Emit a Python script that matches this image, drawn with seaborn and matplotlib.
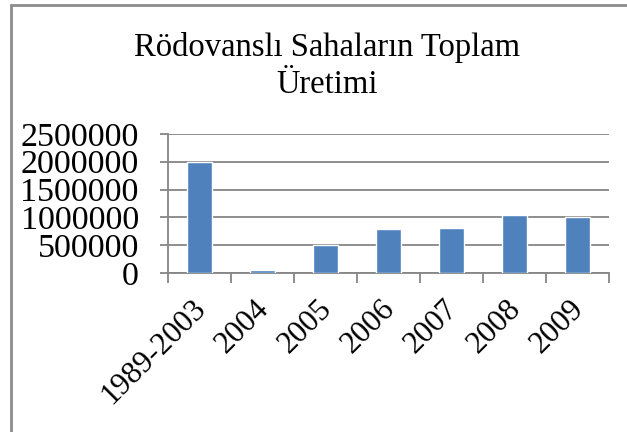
import numpy as np
import pandas as pd
import matplotlib
matplotlib.use("Agg")
import matplotlib.pyplot as plt
import matplotlib.transforms as mtrans
import seaborn as sns
from matplotlib.patches import Rectangle

# ── Data ─────────────────────────────────────────────────────────────────────
periods = ['1989-2003', '2004', '2005', '2006', '2007', '2008', '2009']
production = [1995000, 55000, 505000, 792000, 815000, 1038000, 1002000]
y_ticks = [0, 500000, 1000000, 1500000, 2000000, 2500000]

df = pd.DataFrame({'period': periods, 'production': production})

# ── Style ────────────────────────────────────────────────────────────────────
sns.set_theme(style="white")
plt.rcParams['font.family'] = ['Liberation Serif', 'DejaVu Serif']
plt.rcParams['text.color'] = 'black'
plt.rcParams['xtick.labelcolor'] = 'black'
plt.rcParams['ytick.labelcolor'] = 'black'

fig = plt.figure(figsize=(6.27, 4.32), dpi=100)
ax = fig.add_axes([0.268, 0.368, 0.703, 0.322])

sns.barplot(data=df, x='period', y='production', color='#4F81BD',
            width=0.4, saturation=1, ax=ax, zorder=3)

grid_c = '#868686'
ax.set_ylim(0, 2500000)
ax.set_yticks(y_ticks)
ax.set_yticklabels([str(v) for v in y_ticks], fontsize=24.5)
ax.yaxis.grid(True, color=grid_c, linewidth=1.3, zorder=0)
ax.tick_params(axis='y', length=6, width=1.3, color=grid_c, pad=15, left=True)

# x ticks sit between categories, labels on category centres
ax.set_xlim(-0.5, len(periods) - 0.5)
ax.set_xticks(np.arange(-0.5, len(periods)), minor=True)
ax.tick_params(axis='x', which='minor', length=7, width=1.3, color=grid_c, bottom=True)
ax.tick_params(axis='x', which='major', length=0, pad=15)
ax.set_xticks(range(len(periods)))
ax.set_xticklabels(periods, rotation=45, ha='right', va='top',
                   rotation_mode='anchor', fontsize=22.5)
shift = mtrans.ScaledTranslation(-8 / 100, 0, fig.dpi_scale_trans)
for lbl in ax.get_xticklabels():
    lbl.set_transform(lbl.get_transform() + shift)

for s in ['top', 'right']:
    ax.spines[s].set_visible(False)
for s in ['left', 'bottom']:
    ax.spines[s].set_color(grid_c)
    ax.spines[s].set_linewidth(1.3)
ax.set_xlabel('')
ax.set_ylabel('')

fig.text(0.521, 0.925, 'Rödovanslı Sahaların Toplam\nÜretimi', ha='center', va='top',
         fontsize=23.5, linespacing=1.25)

# chart frame (only top and left edges visible in the crop)
fig.patches.append(Rectangle((0.017, -0.1), 1.2, 1.088, transform=fig.transFigure,
                             fill=False, edgecolor='#8C8C8C', linewidth=2))

fig.savefig('out.png', dpi=100)
